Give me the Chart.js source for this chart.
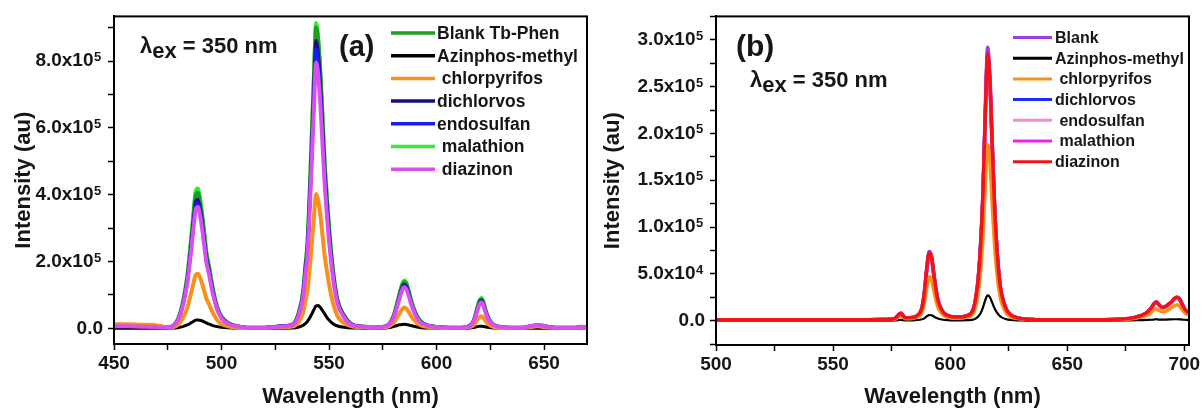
<!DOCTYPE html>
<html><head><meta charset="utf-8">
<script src="https://cdn.jsdelivr.net/npm/chart.js@4.4.0/dist/chart.umd.min.js"></script>
<style>
html,body{margin:0;padding:0;background:#fff;}
#wrap{position:relative;width:1203px;height:412px;overflow:hidden;}
.pane{position:absolute;top:0;height:412px;}
</style></head><body>
<div id="wrap">
<div class="pane" style="left:0;width:600px"><canvas id="ca" width="600" height="412"></canvas></div>
<div class="pane" style="left:600px;width:603px"><canvas id="cb" width="603" height="412"></canvas></div>
</div>
<script>
// ---------- Panel (a) data (intensity in units of 1e5 au) ----------
const wlA = [450,456,462,468,473,476,478,480,482,484,485,486,487,488,489,490,491,492,493,494,496,498,500,503,507,512,520,528,533,536,538,539,540,541,542,543,544,545,546,547,548,549,550,552,554,557,561,566,572,576,578,580,581,582,583,584,585,586,587,588,589,591,593,596,600,606,612,615,617,618,619,620,621,622,623,624,626,629,634,640,644,647,650,655,660,665,667,670];
const blankA = [0.09,0.09,0.08,0.07,0.04, 0.04,0.1,0.3,0.74,1.47, 2.04,2.69,3.38,3.98,4.06, 3.78,3.33,2.77,2.2,1.88, 1.15,0.62,0.34,0.16,0.06, 0.02,0.02,0.06,0.11,0.47, 1.1,1.82,2.53,3.97,5.68, 7.48,9.01,8.56,7.57,6.22, 4.87,3.89,2.99,1.64,0.83, 0.38,0.1,0.05,0.03,0.06, 0.12,0.36,0.56,0.81,1.06, 1.28,1.39,1.32,1.12,0.87, 0.65,0.35,0.18,0.08,0.04, 0.02,0.02,0.06,0.18,0.36, 0.6,0.8,0.87,0.72,0.49, 0.32,0.13,0.05,0.02,0.02, 0.06,0.09,0.06,0.02,0.02, 0.02,0.04,0.03];
const azinA = [0,0,0,0,0, 0,0.01,0.02,0.05,0.1, 0.13,0.17,0.21,0.245,0.25, 0.24,0.22,0.19,0.16,0.13, 0.08,0.05,0.03,0.015,0.005, 0,0,0.005,0.01,0.04, 0.09,0.14,0.21,0.31,0.43, 0.56,0.67,0.68,0.62,0.53, 0.43,0.33,0.25,0.13,0.07, 0.03,0.01,0.005,0,0.01, 0.02,0.05,0.07,0.09,0.105, 0.115,0.12,0.115,0.1,0.085, 0.07,0.04,0.02,0.01,0.005, 0,0,0.005,0.02,0.035, 0.05,0.058,0.06,0.052,0.04, 0.03,0.012,0.005,0,0, 0,0.005,0,0,0, 0,0,0];
const chlorA = [0.12,0.12,0.11,0.1,0.05, 0.02,0.04,0.12,0.3,0.6, 0.83,1.09,1.36,1.6,1.63, 1.52,1.34,1.11,0.89,0.75, 0.46,0.24,0.13,0.06,0.02, 0.01,0.01,0.03,0.05,0.2, 0.48,0.8,1.13,1.77,2.54, 3.34,4.02,3.82,3.38,2.78, 2.17,1.73,1.33,0.72,0.36, 0.16,0.05,0.03,0.02,0.03, 0.06,0.16,0.25,0.36,0.47, 0.57,0.62,0.59,0.5,0.39, 0.29,0.16,0.08,0.04,0.02, 0.01,0.01,0.03,0.08,0.15, 0.25,0.33,0.36,0.3,0.2, 0.13,0.05,0.02,0.01,0.01, 0.04,0.06,0.04,0.01,0.01, 0.01,0.02,0.01];
const dichA = [0.06,0.06,0.05,0.04,0.02, 0.03,0.09,0.29,0.71,1.4, 1.94,2.56,3.21,3.79,3.86, 3.6,3.17,2.63,2.09,1.79, 1.1,0.59,0.32,0.15,0.06, 0.02,0.02,0.06,0.1,0.45, 1.05,1.74,2.42,3.8,5.43, 7.15,8.61,8.18,7.24,5.95, 4.66,3.71,2.85,1.56,0.79, 0.36,0.1,0.05,0.03,0.05, 0.12,0.34,0.53,0.77,1.0, 1.21,1.31,1.25,1.05,0.82, 0.61,0.33,0.17,0.08,0.04, 0.02,0.02,0.06,0.18,0.34, 0.57,0.77,0.83,0.69,0.47, 0.3,0.12,0.05,0.02,0.02, 0.06,0.09,0.06,0.02,0.02, 0.02,0.04,0.03];
const endoA = [0.06,0.06,0.05,0.04,0.02, 0.03,0.09,0.28,0.69,1.37, 1.89,2.49,3.13,3.69,3.76, 3.5,3.09,2.56,2.04,1.74, 1.07,0.58,0.32,0.14,0.06, 0.02,0.02,0.06,0.1,0.43, 1.02,1.69,2.35,3.69,5.28, 6.95,8.36,7.94,7.03,5.78, 4.52,3.6,2.77,1.52,0.77, 0.35,0.1,0.05,0.03,0.05, 0.11,0.33,0.52,0.75,0.98, 1.18,1.28,1.22,1.03,0.8, 0.6,0.32,0.17,0.08,0.04, 0.02,0.02,0.06,0.17,0.33, 0.56,0.75,0.81,0.67,0.46, 0.3,0.12,0.05,0.02,0.02, 0.06,0.09,0.06,0.02,0.02, 0.02,0.04,0.03];
const malA = [0.1,0.1,0.09,0.08,0.04, 0.04,0.1,0.31,0.77,1.52, 2.1,2.77,3.48,4.11,4.19, 3.9,3.44,2.85,2.27,1.94, 1.19,0.64,0.35,0.16,0.07, 0.02,0.02,0.06,0.11,0.47, 1.11,1.84,2.57,4.03,5.77, 7.59,9.14,8.69,7.68,6.31, 4.94,3.94,3.02,1.66,0.84, 0.38,0.1,0.05,0.03,0.06, 0.13,0.37,0.58,0.84,1.09, 1.32,1.43,1.36,1.15,0.89, 0.67,0.36,0.19,0.09,0.04, 0.02,0.02,0.06,0.19,0.37, 0.63,0.84,0.91,0.75,0.51, 0.33,0.13,0.05,0.02,0.02, 0.07,0.1,0.07,0.02,0.02, 0.02,0.05,0.03];
const diazA = [0.06,0.06,0.05,0.04,0.02, 0.03,0.09,0.27,0.67,1.32, 1.82,2.4,3.02,3.56,3.63, 3.38,2.98,2.47,1.97,1.68, 1.03,0.56,0.3,0.14,0.06, 0.02,0.02,0.055,0.095,0.41, 0.97,1.6,2.24,3.51,5.02, 6.61,7.96,7.57,6.69,5.5, 4.31,3.43,2.64,1.45,0.73, 0.33,0.09,0.05,0.03,0.05, 0.11,0.32,0.5,0.72,0.94, 1.14,1.23,1.17,0.99,0.77, 0.58,0.31,0.16,0.08,0.04, 0.02,0.02,0.05,0.17,0.32, 0.54,0.72,0.78,0.65,0.44, 0.28,0.12,0.05,0.02,0.02, 0.07,0.1,0.07,0.02,0.02, 0.02,0.05,0.03];
const labelsA = ['Blank Tb-Phen','Azinphos-methyl',' chlorpyrifos','dichlorvos','endosulfan',' malathion',' diazinon'];
const colorsA = ['#1e9e22','#000000','#f8901c','#12127e','#1a1af2','#38ea38','#d84ef0'];
const xTicksA = [450,500,550,600,650];
const xTickLabelsA = ['450','500','550','600','650'];
const yTicksA = [0,2,4,6,8];
const yTickLabelsA = ['0.0','2.0x10','4.0x10','6.0x10','8.0x10'];
const yTickExpA = ['','5','5','5','5'];

// ---------- Panel (b) data (intensity in units of 1e5 au) ----------
const wlB = [500,510,520,530,540,550,560,570,574,576,577,578,579,580,581,583,585,587,588,589,590,591,592,593,594,595,597,599,602,605,607,609,610,611,612,613,614,615,616,617,618,619,620,621,622,624,626,628,631,635,640,650,660,670,675,678,681,684,686,687,688,689,690,691,692,694,696,697,698,699,700,701,702];
const blankB = [0.01,0.01,0.01,0.01,0.01, 0.01,0.01,0.012,0.015,0.02, 0.035,0.065,0.08,0.05,0.03, 0.03,0.04,0.08,0.15,0.31, 0.56,0.74,0.7,0.51,0.33, 0.2,0.09,0.055,0.04,0.04, 0.05,0.08,0.13,0.25,0.46, 0.82,1.38,2.25,2.92,2.6, 1.88,1.22,0.76,0.46,0.28, 0.12,0.06,0.035,0.02,0.012, 0.01,0.01,0.01,0.012,0.02, 0.03,0.05,0.085,0.14,0.18, 0.2,0.175,0.15,0.14,0.15, 0.19,0.24,0.25,0.23,0.18, 0.13,0.1,0.08];
const azinB = [0,0,0,0,0, 0,0,0,0,0.002, 0.004,0.006,0.008,0.005,0.003, 0.003,0.005,0.01,0.015,0.025, 0.045,0.06,0.058,0.045,0.03, 0.02,0.01,0.006,0.004,0.004, 0.005,0.008,0.012,0.025,0.045, 0.08,0.14,0.22,0.27,0.25, 0.19,0.13,0.085,0.055,0.035, 0.015,0.007,0.004,0.002,0, 0,0,0,0,0.002, 0.004,0.006,0.008,0.01,0.012, 0.015,0.012,0.01,0.01,0.012, 0.014,0.015,0.015,0.014,0.012, 0.01,0.008,0.006];
const chlorB = [0.01,0.01,0.01,0.01,0.01, 0.01,0.01,0.01,0.012,0.015, 0.022,0.04,0.05,0.035,0.02, 0.02,0.03,0.05,0.09,0.19, 0.35,0.47,0.44,0.32,0.21, 0.13,0.06,0.035,0.025,0.028, 0.035,0.055,0.085,0.16,0.3, 0.53,0.89,1.45,1.88,1.68, 1.22,0.79,0.5,0.3,0.19, 0.08,0.04,0.025,0.015,0.01, 0.01,0.01,0.01,0.01,0.015, 0.02,0.035,0.055,0.09,0.12, 0.13,0.11,0.1,0.095,0.1, 0.13,0.16,0.17,0.155,0.12, 0.09,0.07,0.06];
const dichB = [0.01,0.01,0.01,0.01,0.01, 0.01,0.01,0.012,0.015,0.02, 0.034,0.063,0.078,0.05,0.03, 0.03,0.04,0.08,0.14,0.29, 0.54,0.71,0.67,0.49,0.31, 0.19,0.09,0.055,0.04,0.04, 0.05,0.08,0.13,0.24,0.44, 0.79,1.33,2.17,2.82,2.52, 1.83,1.19,0.74,0.44,0.27, 0.12,0.06,0.035,0.02,0.012, 0.01,0.01,0.01,0.012,0.02, 0.03,0.05,0.084,0.14,0.18, 0.2,0.172,0.15,0.14,0.15, 0.19,0.235,0.245,0.225,0.18, 0.13,0.1,0.08];
const endoB = [0.01,0.01,0.01,0.01,0.01, 0.01,0.01,0.012,0.015,0.02, 0.034,0.062,0.077,0.05,0.03, 0.03,0.04,0.08,0.14,0.29, 0.53,0.7,0.66,0.48,0.31, 0.19,0.09,0.055,0.04,0.04, 0.05,0.08,0.13,0.24,0.44, 0.78,1.31,2.14,2.78,2.49, 1.8,1.17,0.73,0.44,0.27, 0.12,0.06,0.035,0.02,0.012, 0.01,0.01,0.01,0.012,0.02, 0.03,0.05,0.083,0.135,0.175, 0.195,0.17,0.148,0.138,0.148, 0.185,0.235,0.245,0.225,0.175, 0.128,0.1,0.08];
const malB = [0.01,0.01,0.01,0.01,0.01, 0.01,0.01,0.012,0.015,0.02, 0.035,0.064,0.079,0.05,0.03, 0.03,0.04,0.08,0.14,0.3, 0.55,0.72,0.68,0.5,0.32, 0.2,0.09,0.055,0.04,0.04, 0.05,0.08,0.13,0.25,0.45, 0.8,1.34,2.19,2.84,2.54, 1.84,1.2,0.75,0.45,0.28, 0.12,0.06,0.035,0.02,0.012, 0.01,0.01,0.01,0.012,0.02, 0.03,0.05,0.085,0.14,0.18, 0.2,0.175,0.15,0.14,0.15, 0.19,0.24,0.25,0.23,0.18, 0.13,0.1,0.08];
const diazB = [0.01,0.01,0.01,0.01,0.01, 0.01,0.01,0.012,0.015,0.02, 0.035,0.065,0.08,0.05,0.03, 0.03,0.04,0.08,0.14,0.3, 0.55,0.72,0.68,0.5,0.32, 0.2,0.09,0.055,0.04,0.04, 0.05,0.08,0.13,0.25,0.45, 0.8,1.35,2.2,2.85,2.55, 1.85,1.2,0.75,0.45,0.28, 0.12,0.06,0.035,0.02,0.012, 0.01,0.01,0.01,0.012,0.02, 0.03,0.05,0.085,0.14,0.18, 0.2,0.175,0.15,0.14,0.15, 0.19,0.24,0.25,0.23,0.18, 0.13,0.1,0.08];
const labelsB = ['Blank','Azinphos-methyl',' chlorpyrifos','dichlorvos',' endosulfan',' malathion','diazinon'];
const colorsB = ['#9c3ee2','#000000','#f8901c','#1a2cff','#f78cc8','#f020f0','#f01418'];
const xTicksB = [500,550,600,650,700];
const xTickLabelsB = ['500','550','600','650','700'];
const yTicksB = [0,0.5,1,1.5,2,2.5,3];
const yTickLabelsB = ['0.0','5.0x10','1.0x10','1.5x10','2.0x10','2.5x10','3.0x10'];
const yTickExpB = ['','4','5','5','5','5','5'];

// ---------- helpers ----------
const FONT = '"Liberation Sans", Arial, sans-serif';
const TXT = '#161616';
const TICK_LEN = 6, TICK_PAD = 5;
const EXP_GAP = '\u2002';
function idx(v, ticks){ return ticks.findIndex(t => Math.abs(t - v) < 1e-6); }
function lab(v, ticks, labels, exps){
  const i = idx(v, ticks);
  if (i < 0) return '';
  return labels[i] + (exps && exps[i] ? EXP_GAP : '');
}

const framePlugin = {
  id: 'frame',
  afterDraw(chart) {
    const {ctx, chartArea: a} = chart;
    ctx.save();
    ctx.strokeStyle = '#000'; ctx.lineWidth = 2;
    ctx.strokeRect(a.left, a.top, a.right - a.left, a.bottom - a.top);
    ctx.restore();
  }
};
// superscript exponents of the y tick labels, written into the gap left after each label
const expoPlugin = {
  id: 'expo',
  afterDraw(chart, args, o) {
    const s = chart.scales.y, ctx = chart.ctx;
    ctx.save();
    ctx.font = 'bold 19px ' + FONT;
    const gapW = ctx.measureText(EXP_GAP).width;
    ctx.font = 'bold ' + o.size + 'px ' + FONT;
    ctx.fillStyle = TXT; ctx.textAlign = 'left'; ctx.textBaseline = 'alphabetic';
    const xs = s.right - TICK_LEN - TICK_PAD - gapW + 0.5;
    o.ticks.forEach((v, i) => {
      if (!o.exps[i]) return;
      ctx.fillText(o.exps[i], xs, s.getPixelForValue(v) + o.dy);
    });
    ctx.restore();
  }
};
const lineLegend = {
  id: 'lineLegend',
  afterDraw(chart, args, o) {
    const ctx = chart.ctx;
    ctx.save();
    ctx.font = 'bold ' + o.size + 'px ' + FONT;
    ctx.textBaseline = 'middle';
    ctx.textAlign = 'left';
    chart.data.datasets.forEach((d, i) => {
      const y = o.y + i * o.dy;
      ctx.strokeStyle = d.borderColor; ctx.lineWidth = o.lw;
      ctx.beginPath(); ctx.moveTo(o.x, y); ctx.lineTo(o.x + o.len, y); ctx.stroke();
      ctx.fillStyle = TXT;
      ctx.fillText(d.label, o.x + o.len + o.gap, y + 1);
    });
    ctx.restore();
  }
};
const notes = {
  id: 'notes',
  afterDraw(chart, args, o) {
    const ctx = chart.ctx;
    ctx.save();
    ctx.fillStyle = TXT; ctx.textBaseline = 'alphabetic'; ctx.textAlign = 'left';
    ctx.font = 'bold ' + o.tag.size + 'px ' + FONT;
    ctx.fillText(o.tag.text, o.tag.x, o.tag.y);
    const L = o.lam;
    ctx.font = 'bold ' + L.size + 'px ' + FONT;
    let x = L.x;
    ctx.fillText('\u03bb', x, L.y); x += ctx.measureText('\u03bb').width;
    ctx.fillText('ex', x, L.y + L.sub); x += ctx.measureText('ex').width;
    ctx.fillText(' = 350 nm', x, L.y);
    ctx.restore();
  }
};

function makeChart(id, cfg) {
  const datasets = cfg.series.map((s, i) => ({
    label: cfg.labels[i],
    data: cfg.wl.map((x, j) => ({x: x, y: s[j]})),
    borderColor: cfg.colors[i],
    backgroundColor: cfg.colors[i],
    borderWidth: cfg.widths[i],
    pointRadius: 0,
    pointHoverRadius: 0,
    cubicInterpolationMode: 'monotone',
    order: cfg.orders[i],
    fill: false
  }));
  const tickFont = {family: FONT, size: 19, weight: 'bold'};
  const titleFont = {family: FONT, size: 22, weight: 'bold'};
  return new Chart(document.getElementById(id), {
    type: 'line',
    data: {datasets},
    options: {
      responsive: false,
      animation: false,
      events: [],
      layout: {padding: cfg.pad},
      plugins: {
        legend: {display: false},
        tooltip: {enabled: false},
        lineLegend: cfg.legend,
        notes: cfg.notes,
        expo: {ticks: cfg.yTicks, exps: cfg.yExps, size: 13, dy: 0}
      },
      scales: {
        x: {
          type: 'linear', min: cfg.xmin, max: cfg.xmax,
          afterFit: s => { s.height = cfg.xH; },
          ticks: {stepSize: 25, includeBounds: false, autoSkip: false, maxRotation: 0,
                  padding: 2, color: TXT, font: tickFont,
                  callback: v => lab(v, cfg.xTicks, cfg.xTickLabels)},
          grid: {drawOnChartArea: false, drawTicks: true, tickLength: TICK_LEN, tickWidth: 1.5, tickColor: '#000'},
          border: {display: true, color: '#000', width: 2},
          title: {display: true, text: 'Wavelength (nm)', color: TXT, font: titleFont, padding: {top: 0, bottom: 2}}
        },
        y: {
          type: 'linear', min: cfg.ymin, max: cfg.ymax,
          afterFit: s => { s.width = cfg.yW; },
          ticks: {stepSize: cfg.yStep, includeBounds: false, autoSkip: false,
                  padding: TICK_PAD, color: TXT, font: tickFont,
                  callback: v => lab(v, cfg.yTicks, cfg.yTickLabels, cfg.yExps)},
          grid: {drawOnChartArea: false, drawTicks: true, tickLength: TICK_LEN, tickWidth: 1.5, tickColor: '#000'},
          border: {display: true, color: '#000', width: 2},
          title: {display: true, text: 'Intensity (au)', color: TXT, font: titleFont, padding: {top: cfg.yTitlePad, bottom: 0}}
        }
      }
    },
    plugins: [framePlugin, expoPlugin, lineLegend, notes]
  });
}

makeChart('ca', {
  wl: wlA,
  series: [blankA, azinA, chlorA, dichA, endoA, malA, diazA],
  labels: labelsA, colors: colorsA,
  widths: [4, 3, 4, 3.5, 3.5, 4, 4],
  orders: [5, 2, 1, 4, 3, 6, 0],
  xmin: 450, xmax: 670, ymin: -0.47, ymax: 9.34, yStep: 1,
  xTicks: xTicksA, xTickLabels: xTickLabelsA, yTicks: yTicksA, yTickLabels: yTickLabelsA, yExps: yTickExpA,
  pad: {left: 0, right: 13, top: 15, bottom: 0},
  xH: 68, yW: 114, yTitlePad: 11,
  legend: {x: 391, len: 44, gap: 2, y: 33, dy: 22.7, size: 17.5, lw: 3.5},
  notes: {tag: {text: '(a)', x: 339, y: 56, size: 29}, lam: {x: 140, y: 53, size: 22, sub: 5}}
});

makeChart('cb', {
  wl: wlB,
  series: [blankB, azinB, chlorB, dichB, endoB, malB, diazB],
  labels: labelsB, colors: colorsB,
  widths: [3.5, 2.2, 3.5, 3.5, 3.5, 3.5, 3.5],
  orders: [6, 2, 1, 5, 4, 3, 0],
  xmin: 500, xmax: 702, ymin: -0.26, ymax: 3.25, yStep: 0.25,
  xTicks: xTicksB, xTickLabels: xTickLabelsB, yTicks: yTicksB, yTickLabels: yTickLabelsB, yExps: yTickExpB,
  pad: {left: 0, right: 14, top: 15, bottom: 0},
  xH: 67, yW: 116, yTitlePad: 0,
  legend: {x: 413, len: 39, gap: 3, y: 37.5, dy: 20.7, size: 16, lw: 3},
  notes: {tag: {text: '(b)', x: 136, y: 56, size: 30}, lam: {x: 150, y: 87, size: 22, sub: 5}}
});
</script>
</body></html>
